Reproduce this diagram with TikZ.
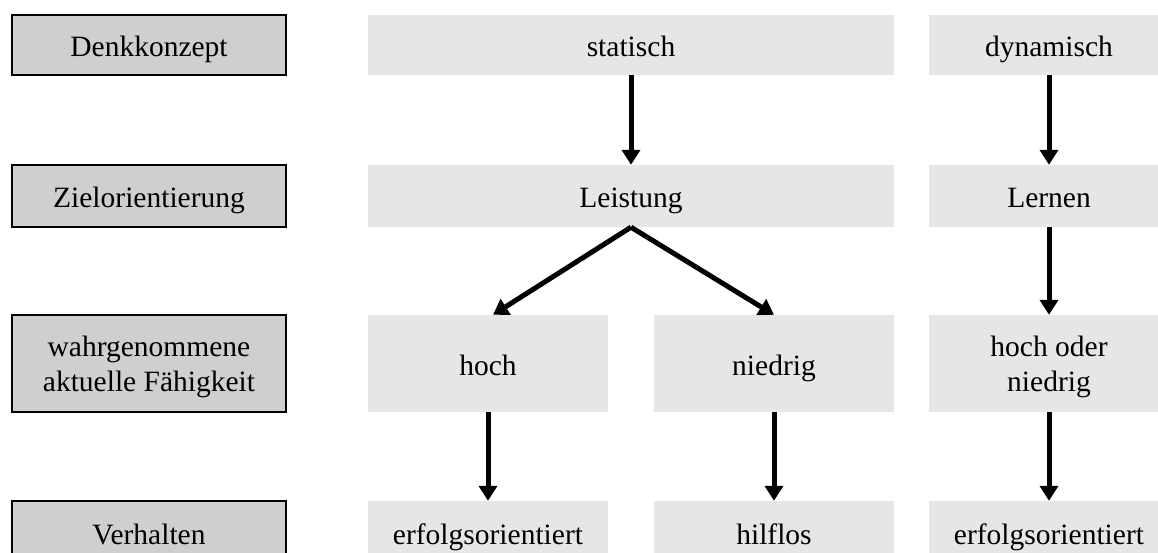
\documentclass[tikz,border=0pt]{standalone}
\usepackage{fontspec}
\setmainfont{Liberation Serif}
\usetikzlibrary{arrows.meta}
\definecolor{labelgray}{HTML}{D0CECE}
\definecolor{cellgray}{HTML}{E6E6E6}
\tikzset{
  boxfont/.style={font=\fontsize{29.5}{35}\selectfont},
  oneline/.style={text height=26pt, text depth=2pt},
  twoline/.style={text height=62pt, text depth=6pt},
  lbox/.style={draw=black, line width=2.6pt, fill=labelgray, rectangle, inner sep=0pt,
    minimum width=274pt, align=center, boxfont},
  cbox/.style={fill=cellgray, rectangle, inner sep=0pt, align=center, boxfont},
  arr/.style={line width=5pt, -{Triangle[width=18pt,length=15pt]}},
}
\begin{document}
\begin{tikzpicture}[x=1pt,y=-1pt]
\useasboundingbox (0,0) rectangle (1158,553);
\clip (0,0) rectangle (1158,553);
% left label boxes
\node[lbox, oneline, minimum height=60pt] (l1) at (149,45) {Denkkonzept};
\node[lbox, oneline, minimum height=62pt] (l2) at (149,196) {Zielorientierung};
\node[lbox, twoline, minimum height=97pt] (l3) at (149,363.5) {wahrgenommene\\aktuelle Fähigkeit};
\node[lbox, oneline, minimum height=62pt] (l4) at (149,532) {Verhalten};
% row 1
\node[cbox, oneline, minimum width=526pt, minimum height=60pt] (statisch) at (631,45) {statisch};
\node[cbox, oneline, minimum width=240pt, minimum height=60pt] (dynamisch) at (1049,45) {dynamisch};
% row 2
\node[cbox, oneline, minimum width=526pt, minimum height=62pt] (leistung) at (631,196) {Leistung};
\node[cbox, oneline, minimum width=240pt, minimum height=62pt] (lernen) at (1049,196) {Lernen};
% row 3
\node[cbox, oneline, minimum width=240pt, minimum height=97pt] (hoch) at (488,363.5) {hoch};
\node[cbox, oneline, minimum width=240pt, minimum height=97pt] (niedrig) at (774,363.5) {niedrig};
\node[cbox, twoline, minimum width=240pt, minimum height=97pt] (hochnied) at (1049,363.5) {hoch oder\\niedrig};
% row 4
\node[cbox, oneline, minimum width=240pt, minimum height=62pt] (erf1) at (488,532) {erfolgsorientiert};
\node[cbox, oneline, minimum width=240pt, minimum height=62pt] (hilflos) at (774,532) {hilflos};
\node[cbox, oneline, minimum width=240pt, minimum height=62pt] (erf2) at (1049,532) {erfolgsorientiert};
% arrows
\draw[arr] (statisch.south) -- (leistung.north);
\draw[arr] (dynamisch.south) -- (lernen.north);
\draw[arr] (leistung.south) -- ([xshift=5pt]hoch.north);
\draw[arr] (leistung.south) -- (niedrig.north);
\draw[arr] (lernen.south) -- (hochnied.north);
\draw[arr] (hoch.south) -- (erf1.north);
\draw[arr] (niedrig.south) -- (hilflos.north);
\draw[arr] (hochnied.south) -- (erf2.north);
\end{tikzpicture}
\end{document}
